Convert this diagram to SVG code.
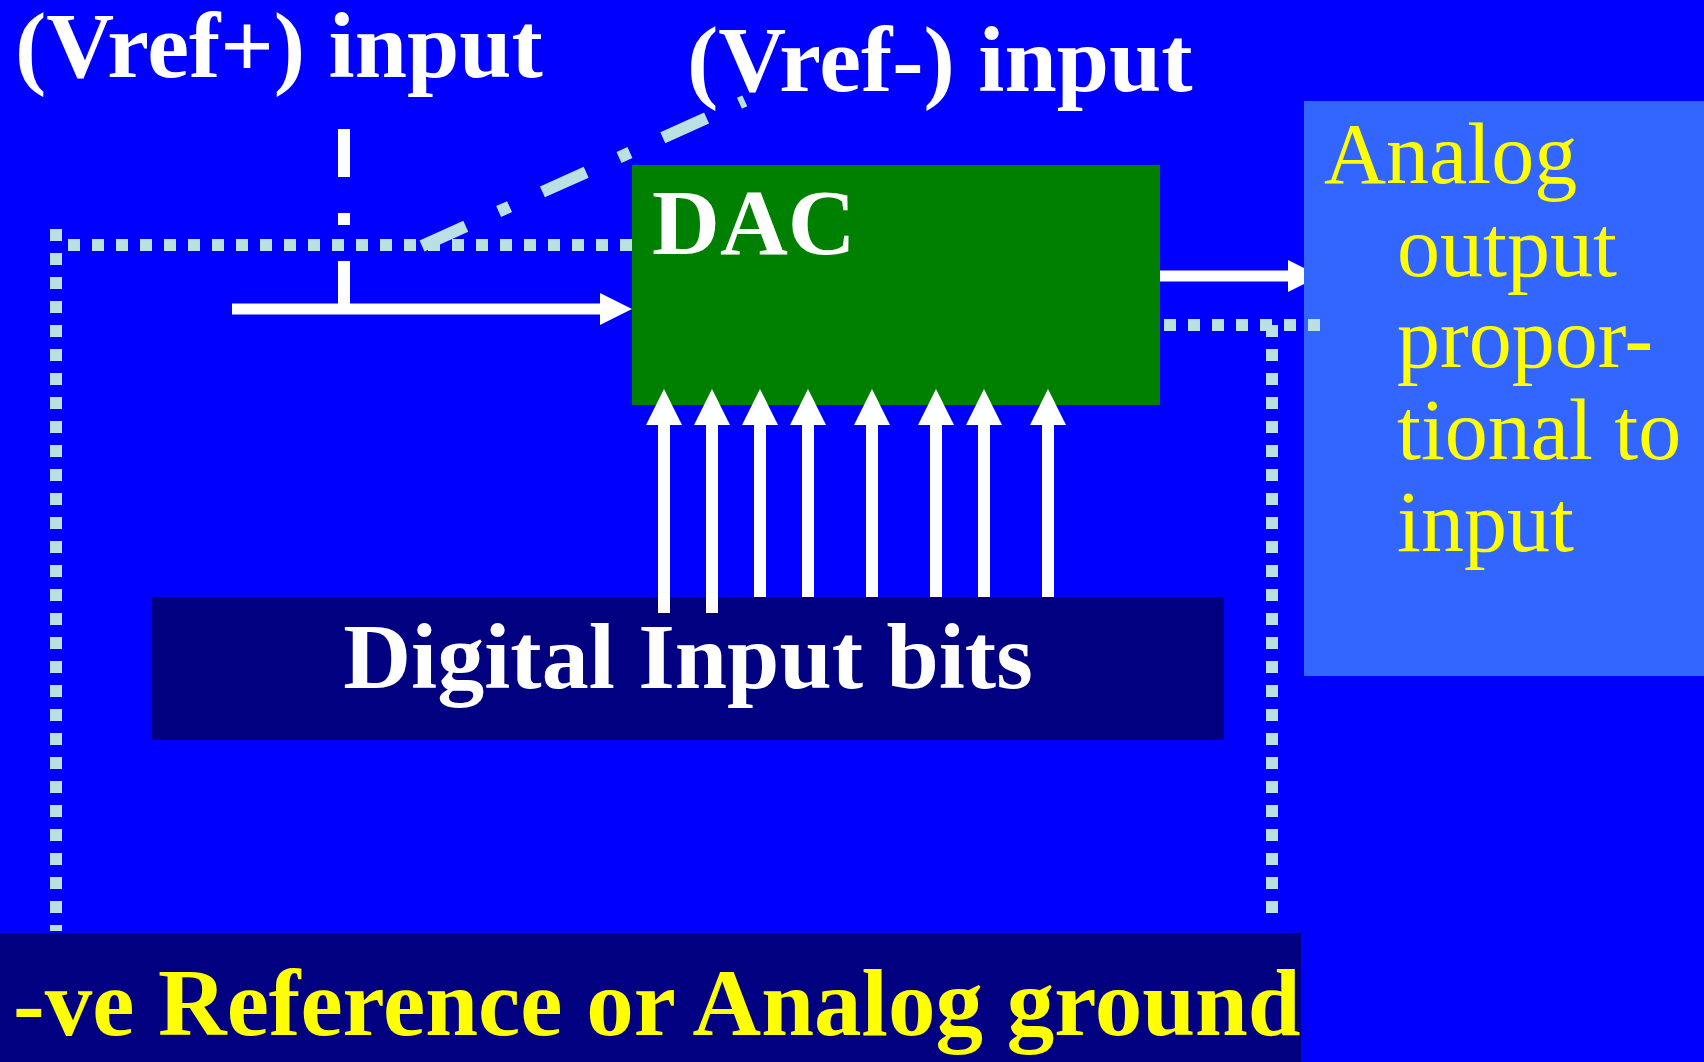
<svg xmlns="http://www.w3.org/2000/svg" width="1704" height="1062" viewBox="0 0 1704 1062">
<defs>
<style>
.t{font-family:"Liberation Serif","Times New Roman",serif;}
.wb{fill:#FFFFFF;font-weight:bold;font-size:94px;}
.yb{fill:#FFFF00;font-weight:bold;font-size:95px;}
.yr{fill:#FFFF00;font-size:86px;}
.dot{stroke:#BBE0E3;stroke-width:12;stroke-dasharray:12 12;fill:none;}
.dd{stroke-width:12;stroke-dasharray:48 36 12 36;fill:none;}
.arr{stroke:#FFFFFF;fill:none;}
</style>
<marker id="hv" markerUnits="userSpaceOnUse" markerWidth="36" markerHeight="36" refX="0" refY="18" orient="auto">
<path d="M0,0 L36,18 L0,36 z" fill="#FFFFFF"/>
</marker>
<marker id="hh" markerUnits="userSpaceOnUse" markerWidth="32" markerHeight="32" refX="0" refY="16" orient="auto">
<path d="M0,0 L32,16 L0,32 z" fill="#FFFFFF"/>
</marker>
</defs>
<rect x="0" y="0" width="1704" height="1062" fill="#0000FF"/>

<g id="connector-output">
<line class="arr" x1="1160" y1="276" x2="1288" y2="276" stroke-width="11" marker-end="url(#hh)"/>
</g>

<g id="node-analog-output">
<rect x="1304" y="101" width="400" height="575" fill="#3366FF"/>
<text class="t yr" x="1324" y="183">Analog</text>
<text class="t yr" x="1397" y="276">output</text>
<text class="t yr" x="1397" y="367">propor-</text>
<text class="t yr" x="1397" y="459">tional to</text>
<text class="t yr" x="1397" y="551">input</text>
</g>

<g id="node-dac">
<rect x="632" y="165" width="528" height="240" fill="#008000"/>
<text class="t wb" x="652" y="254" font-size="95">DAC</text>
</g>

<g id="node-digital-input">
<rect x="152" y="597" width="1072" height="143" fill="#000080"/>
<text class="t wb" x="688" y="688" text-anchor="middle" font-size="95">Digital Input bits</text>
</g>

<g id="node-ground">
<rect x="0" y="933" width="1301" height="129" fill="#000080"/>
<text class="t yb" x="13" y="1035">-ve Reference or Analog ground</text>
</g>

<g id="connectors">
<line class="dot" x1="56" y1="229" x2="56" y2="931"/>
<line class="dot" x1="68" y1="245" x2="632" y2="245"/>
<line class="dot" x1="1164" y1="325" x2="1320" y2="325"/>
<line class="dot" x1="1272" y1="325" x2="1272" y2="913"/>
<line class="dd" x1="422" y1="246" x2="744.8" y2="100.9" stroke="#BBE0E3"/>
<line class="dd" x1="344" y1="129" x2="344" y2="309" stroke="#FFFFFF"/>
<line class="arr" x1="232" y1="309" x2="600" y2="309" stroke-width="11" marker-end="url(#hh)"/>
<line class="arr" x1="664" y1="613" x2="664" y2="425" stroke-width="12" marker-end="url(#hv)"/>
<line class="arr" x1="712" y1="613" x2="712" y2="425" stroke-width="12" marker-end="url(#hv)"/>
<line class="arr" x1="760" y1="597" x2="760" y2="425" stroke-width="12" marker-end="url(#hv)"/>
<line class="arr" x1="808" y1="597" x2="808" y2="425" stroke-width="12" marker-end="url(#hv)"/>
<line class="arr" x1="872" y1="597" x2="872" y2="425" stroke-width="12" marker-end="url(#hv)"/>
<line class="arr" x1="936" y1="597" x2="936" y2="425" stroke-width="12" marker-end="url(#hv)"/>
<line class="arr" x1="984" y1="597" x2="984" y2="425" stroke-width="12" marker-end="url(#hv)"/>
<line class="arr" x1="1048" y1="597" x2="1048" y2="425" stroke-width="12" marker-end="url(#hv)"/>
</g>

<g id="labels">
<text class="t wb" x="15" y="77">(Vref+) input</text>
<text class="t wb" x="687" y="91">(Vref-) input</text>
</g>
</svg>
